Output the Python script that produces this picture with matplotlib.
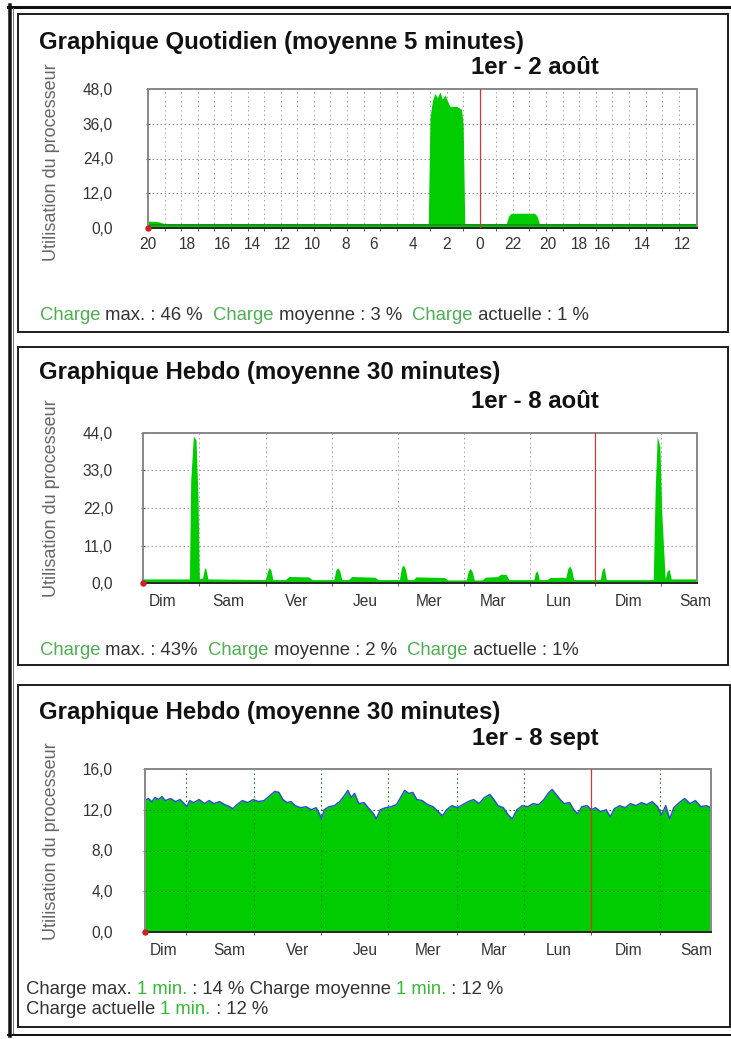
import matplotlib
matplotlib.use('Agg')
import matplotlib.pyplot as plt
from matplotlib.patches import Rectangle
from matplotlib.lines import Line2D

plt.rcParams['font.family'] = ['Liberation Sans', 'DejaVu Sans']

# ---------------- data ----------------
# Panel 1 : daily graph (x in hours from the left edge)
p1_ticks = [0, 2.4, 4.5, 6.3, 8.1, 9.9, 11.9, 13.6, 16.0, 18.0, 20.0, 22.0, 24.1, 26.0, 27.4, 29.8, 32.2]
p1_labels = ['20', '18', '16', '14', '12', '10', '8', '6', '4', '2', '0', '22', '20', '18', '16', '14', '12']
p1_x = [0.0, 0.6, 1.0, 16.9, 17.0, 17.15, 17.3, 17.45, 17.6, 17.75, 17.9, 18.05, 18.2, 18.6, 18.9, 19.0, 19.1,
        21.6, 21.75, 21.9, 23.3, 23.45, 23.6, 33.1]
p1_y = [2.4, 2.2, 1.5, 1.5, 38.0, 44.0, 46.5, 45.0, 47.0, 44.5, 46.0, 44.0, 42.0, 42.0, 41.0, 36.0, 1.5,
        1.5, 4.2, 5.1, 5.1, 4.2, 1.5, 1.5]
p1_yticks = [0, 12, 24, 36, 48]
p1_ylabels = ['0,0', '12,0', '24,0', '36,0', '48,0']
p1_now = 20.0

# Panel 2 : weekly graph, August (x in days from the left edge)
p2_ticks = [0.30, 1.28, 2.32, 3.36, 4.31, 5.29, 6.27, 7.33, 8.33]
p2_labels = ['Dim', 'Sam', 'Ver', 'Jeu', 'Mer', 'Mar', 'Lun', 'Dim', 'Sam']
p2_days = [0.85, 1.85, 2.85, 3.85, 4.85, 5.84, 7.81]
p2_now = 6.82
p2_x = [0.00, 0.70, 0.72, 0.76, 0.80, 0.83, 0.85, 0.90, 0.93, 0.95, 0.98,
        1.85, 1.88, 1.90, 1.93, 1.96,
        2.15, 2.20, 2.50, 2.55,
        2.88, 2.91, 2.94, 2.97, 3.00,
        3.10, 3.15, 3.50, 3.55,
        3.87, 3.90, 3.93, 3.96, 3.99,
        4.08, 4.12, 4.55, 4.60,
        4.88, 4.91, 4.94, 4.97, 5.00,
        5.12, 5.16, 5.35, 5.40, 5.48, 5.52,
        5.90, 5.92, 5.95, 5.98,
        6.10, 6.14, 6.33, 6.38, 6.41, 6.44, 6.47, 6.50,
        6.90, 6.93, 6.96, 6.99,
        7.70, 7.73, 7.76, 7.80, 7.83, 7.88, 7.91, 7.94, 7.97,
        8.36]
p2_y = [1.2, 1.2, 30.0, 43.0, 42.0, 25.0, 1.2, 1.5, 4.5, 4.0, 1.2,
        1.0, 3.5, 4.5, 3.8, 1.0,
        1.0, 1.9, 1.8, 1.0,
        1.0, 3.8, 4.5, 3.5, 1.0,
        1.0, 1.9, 1.7, 1.0,
        1.0, 4.5, 5.3, 4.0, 1.0,
        1.0, 1.8, 1.6, 0.9,
        0.9, 3.6, 4.3, 3.2, 0.9,
        0.9, 1.7, 1.9, 2.6, 2.5, 1.0,
        1.0, 3.0, 3.6, 1.0,
        1.0, 1.6, 1.7, 1.5, 4.2, 5.0, 3.8, 1.0,
        1.0, 4.0, 4.5, 1.0,
        1.0, 28.0, 43.0, 40.0, 20.0, 1.2, 3.5, 4.0, 1.2,
        1.2]
p2_yticks = [0, 11, 22, 33, 44]
p2_ylabels = ['0,0', '11,0', '22,0', '33,0', '44,0']

# Panel 3 : weekly graph, September (x in days from the left edge)
p3_ticks = [0.27, 1.24, 2.25, 3.26, 4.19, 5.16, 6.12, 7.15, 8.15]
p3_labels = ['Dim', 'Sam', 'Ver', 'Jeu', 'Mer', 'Mar', 'Lun', 'Dim', 'Sam']
p3_days = [0.61, 1.61, 2.61, 3.60, 4.61, 5.60, 7.61]
p3_now = 6.59
p3_x = [0.00, 0.05, 0.10, 0.15, 0.20, 0.25, 0.30, 0.38, 0.45, 0.52, 0.58, 0.62, 0.66, 0.72, 0.80, 0.88,
        0.95, 1.02, 1.10, 1.18, 1.25, 1.30, 1.36, 1.44, 1.52, 1.60, 1.68, 1.76, 1.85, 1.92, 1.98, 2.04,
        2.10, 2.16, 2.22, 2.30, 2.38, 2.46, 2.53, 2.58, 2.61, 2.65, 2.72, 2.80, 2.88, 2.95, 3.00, 3.05,
        3.10, 3.16, 3.24, 3.30, 3.38, 3.42, 3.48, 3.56, 3.64, 3.72, 3.78, 3.84, 3.90, 3.96, 4.02, 4.10,
        4.18, 4.26, 4.34, 4.40, 4.46, 4.54, 4.62, 4.70, 4.78, 4.86, 4.94, 5.02, 5.10, 5.16, 5.22, 5.30,
        5.37, 5.43, 5.50, 5.58, 5.66, 5.74, 5.82, 5.90, 5.96, 6.02, 6.08, 6.14, 6.20, 6.28, 6.34, 6.40,
        6.46, 6.54, 6.60, 6.66, 6.74, 6.82, 6.88, 6.94, 7.02, 7.10, 7.18, 7.26, 7.34, 7.42, 7.50, 7.58,
        7.64, 7.70, 7.76, 7.82, 7.90, 7.98, 8.06, 8.14, 8.22, 8.30, 8.37]
p3_y = [12.9, 13.1, 12.8, 13.2, 13.0, 13.3, 12.9, 13.1, 12.8, 13.0, 12.6, 12.3, 12.9, 12.7, 13.0, 12.6,
        12.9, 12.6, 12.8, 12.5, 12.3, 12.1, 12.5, 12.9, 12.7, 13.0, 12.8, 12.9, 13.4, 13.8, 13.7, 13.0,
        12.7, 12.8, 12.4, 12.2, 12.3, 12.0, 12.2, 11.6, 11.1, 12.0, 12.3, 12.4, 12.8, 13.4, 13.9, 13.2,
        13.6, 12.6, 12.7, 12.2, 11.6, 11.1, 12.0, 12.2, 12.3, 12.5, 13.2, 13.9, 13.6, 13.7, 13.0, 12.9,
        12.5, 12.3, 11.8, 11.4, 12.0, 12.4, 12.2, 12.5, 12.8, 13.0, 12.6, 13.2, 13.5, 13.0, 12.4, 12.2,
        11.5, 11.1, 12.0, 12.4, 12.3, 12.6, 12.5, 13.0, 13.6, 14.0, 13.5, 13.0, 12.6, 12.7, 12.0, 11.6,
        12.3, 12.4, 12.0, 12.2, 11.8, 12.0, 11.3, 12.1, 12.4, 12.2, 12.6, 12.4, 12.7, 12.5, 12.8, 12.3,
        11.5, 12.4, 11.1, 12.2, 12.7, 13.1, 12.6, 12.9, 12.3, 12.4, 12.2]
p3_yticks = [0, 4, 8, 12, 16]
p3_ylabels = ['0,0', '4,0', '8,0', '12,0', '16,0']

titles = ['Graphique Quotidien (moyenne 5 minutes)', 'Graphique Hebdo (moyenne 30 minutes)',
          'Graphique Hebdo (moyenne 30 minutes)']
subtitles = ['1er - 2 août', '1er - 8 août', '1er - 8 sept']
ylabel = 'Utilisation du processeur'

# ---------------- layout ----------------
W, H = 731, 1039
fig = plt.figure(figsize=(W / 100, H / 100), dpi=100)
fig.patch.set_facecolor('white')


def P(px):
    return px * 0.72


def fx(x):
    return x / W


def fy(y):
    return 1 - y / H


GREEN = '#00cc00'
TXT = '#333333'
LG = '#4caf50'
LG2 = '#33bb33'

# outer frame
fig.add_artist(Line2D([fx(8), fx(731)], [fy(6.5), fy(6.5)], lw=P(3), color='#111'))
fig.add_artist(Line2D([fx(9.5), fx(9.5)], [fy(5), fy(1036)], lw=P(3.5), color='#111'))
fig.add_artist(Line2D([fx(13), fx(13)], [fy(8), fy(1034)], lw=P(1), color='#777'))
fig.add_artist(Line2D([fx(8), fx(731)], [fy(1035), fy(1035)], lw=P(2), color='#111'))

# panel frames
for (t, b, r) in [(14, 332, 728), (347, 665, 728), (685, 1027, 730)]:
    fig.add_artist(Rectangle((fx(18), fy(b)), fx(r) - fx(18), fy(t) - fy(b), fill=False,
                             lw=P(2), ec='#222', transform=fig.transFigure))


def make_ax(l, t, r, b):
    ax = fig.add_axes([fx(l), fy(b), (r - l) / W, (b - t) / H])
    for s in ['top', 'left', 'right']:
        ax.spines[s].set_color('#8a8a8a')
        ax.spines[s].set_linewidth(P(2))
    ax.spines['bottom'].set_color('#2a2a2a')
    ax.spines['bottom'].set_linewidth(P(2))
    ax.set_facecolor('white')
    return ax


def style(ax, xlim, ylim, yticks, ylabels, xticks, xlabels, grid_x, now, ypad, xpad):
    ax.set_xlim(*xlim)
    ax.set_ylim(*ylim)
    ax.set_yticks(yticks)
    ax.set_yticklabels(ylabels)
    ax.set_xticks(xticks)
    ax.set_xticklabels(xlabels)
    ax.set_xticks(grid_x, minor=True)
    ax.tick_params(axis='y', length=3, direction='inout', color='#555', pad=ypad,
                   labelsize=P(15.5), labelcolor=TXT)
    ax.tick_params(axis='x', which='major', length=0, pad=xpad, labelsize=P(15.5), labelcolor=TXT)
    ax.tick_params(axis='x', which='minor', length=4, direction='inout', color='#444')
    for yv in yticks[1:-1]:
        ax.axhline(yv, color='#999', lw=P(1), ls=(0, (1.5, 2.5)), zorder=0.5)
    for xv in grid_x:
        if abs(xv - now) > 1e-6:
            ax.axvline(xv, color='#aaa', lw=P(1), ls=(0, (1.5, 3)), zorder=0.5)
    ax.axvline(now, color='#e03030', lw=P(1.2), zorder=3)
    ax.plot([xlim[0]], [0], 'o', color='#d02020', ms=P(5), clip_on=False, zorder=5)


# panel 1
ax1 = make_ax(148, 89, 697, 228)
ax1.fill_between(p1_x, 0, p1_y, color=GREEN, lw=0, zorder=2)
ax1.plot(p1_x, [min(v, 1.2) for v in p1_y], color='#119911', lw=P(2), zorder=2)
style(ax1, (0, 33.1), (0, 48), p1_yticks, p1_ylabels, p1_ticks, p1_labels,
      [h for h in range(1, 33)], p1_now, P(33), P(9))

# panel 2
ax2 = make_ax(143, 433, 697, 583)
ax2.fill_between(p2_x, 0, p2_y, color=GREEN, lw=0, zorder=2)
style(ax2, (0, 8.36), (0, 44), p2_yticks, p2_ylabels, p2_ticks, p2_labels,
      p2_days + [p2_now], p2_now, P(28), P(11))

# panel 3
ax3 = make_ax(145, 769, 711, 932)
ax3.fill_between(p3_x, 0, p3_y, color=GREEN, lw=0, zorder=2)
ax3.plot(p3_x, p3_y, color='#2a4fd0', lw=P(1.5), zorder=2.5)
style(ax3, (0, 8.37), (0, 16), p3_yticks, p3_ylabels, p3_ticks, p3_labels,
      p3_days + [p3_now], p3_now, P(30), P(11))
for yv in p3_yticks[1:-1]:
    ax3.axhline(yv, color='#0a8a0a', lw=P(1), ls=(0, (1.5, 2.5)), zorder=2.2)
for xv in p3_days:
    ax3.axvline(xv, color='#0a8a0a', lw=P(1), ls=(0, (1.5, 3)), zorder=2.2)

# titles
for (ty, sy, t, s) in [(42, 67, titles[0], subtitles[0]), (373, 402, titles[1], subtitles[1]),
                       (712, 738, titles[2], subtitles[2])]:
    fig.text(fx(39), fy(ty), t, fontsize=P(24), fontweight='bold', color='#111', ha='left', va='center')
    fig.text(fx(599), fy(sy), s, fontsize=P(24), fontweight='bold', color='#111', ha='right', va='center')

for cy in [162, 498, 841]:
    fig.text(fx(52), fy(cy), ylabel, rotation=90, fontsize=P(18), color='#666', ha='center', va='center')

# legends with mixed colours
fig.canvas.draw()
renderer = fig.canvas.get_renderer()
LSIZE = 18.5


def rich(x, y, pieces, size=LSIZE):
    cx = x
    base = y + 0.36 * size
    for txt, col in pieces:
        t = fig.text(fx(cx), fy(base), txt, fontsize=P(size), color=col, ha='left', va='baseline')
        bb = t.get_window_extent(renderer=renderer)
        cx += bb.width


rich(40, 313, [('Charge', LG), (' max. : 46 %  ', TXT), ('Charge', LG), (' moyenne : 3 %  ', TXT),
               ('Charge', LG), (' actuelle : 1 %', TXT)])
rich(40, 648, [('Charge', LG), (' max. : 43%  ', TXT), ('Charge', LG), (' moyenne : 2 %  ', TXT),
               ('Charge', LG), (' actuelle : 1%', TXT)])
rich(26, 987, [('Charge max. ', TXT), ('1 min.', LG2), (' : 14 % Charge moyenne ', TXT), ('1 min.', LG2),
               (' : 12 %', TXT)])
rich(26, 1007, [('Charge actuelle ', TXT), ('1 min.', LG2), (' : 12 %', TXT)])

fig.savefig('out.png', dpi=100, facecolor='white')
